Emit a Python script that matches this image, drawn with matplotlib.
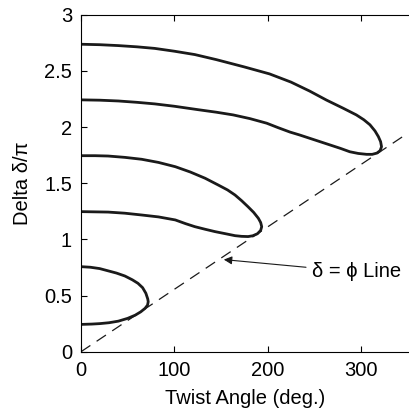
import matplotlib
matplotlib.use('Agg')
import matplotlib.pyplot as plt

plt.rcParams['font.family'] = ['Liberation Sans', 'DejaVu Sans']

# loci for each order, traced from phi=0 along the upper branch, round the tip, back along the lower branch
loop1_phi = [0, 10, 20, 29, 38, 47, 55, 61, 66, 69.5, 71.5, 72, 71.3, 68.6, 64, 58, 50, 40, 30, 20, 11.5, 0]
loop1_del = [0.757, 0.752, 0.74, 0.72, 0.70, 0.674, 0.64, 0.609, 0.57, 0.52, 0.47, 0.445, 0.415, 0.386, 0.355,
             0.325, 0.297, 0.272, 0.258, 0.25, 0.246, 0.243]

loop2_phi = [0, 15, 29, 47, 65, 83, 101, 117, 133, 147, 157, 165, 172, 179, 185, 190, 192.5, 193.6, 192.5, 189,
             184, 179, 172, 165, 155, 143.6, 133, 122, 112, 101, 83, 65, 47, 29, 0]
loop2_del = [1.745, 1.745, 1.742, 1.73, 1.713, 1.685, 1.647, 1.60, 1.544, 1.484, 1.44, 1.395, 1.345, 1.29, 1.24,
             1.188, 1.15, 1.113, 1.08, 1.05, 1.032, 1.025, 1.027, 1.033, 1.05, 1.069, 1.09, 1.113, 1.14, 1.173,
             1.20, 1.217, 1.233, 1.243, 1.247]

loop3_phi = [0, 20, 40, 60, 79, 100, 122, 145, 175, 202, 225, 245, 263, 281, 295, 303, 309.6, 315, 318.6, 321,
             322, 320.5, 317, 312, 306, 297, 288, 278, 267, 256, 245, 234, 224, 211, 199, 181, 163, 145, 125,
             100, 79, 60, 40, 20, 0]
loop3_del = [2.737, 2.733, 2.725, 2.714, 2.70, 2.675, 2.645, 2.60, 2.535, 2.473, 2.40, 2.32, 2.24, 2.167, 2.108,
             2.065, 2.02, 1.965, 1.915, 1.87, 1.825, 1.79, 1.768, 1.757, 1.757, 1.765, 1.78, 1.81, 1.84, 1.87,
             1.90, 1.93, 1.955, 1.995, 2.034, 2.075, 2.108, 2.132, 2.155, 2.185, 2.206, 2.22, 2.232, 2.239, 2.242]

line_phi = [0, 350]
line_del = [0, 350 / 180]

fig = plt.figure(figsize=(4.10, 4.13), dpi=100)
ax = fig.add_axes([0.1976, 0.1484, 0.8024, 0.816])

for phi, dl in [(loop1_phi, loop1_del), (loop2_phi, loop2_del), (loop3_phi, loop3_del)]:
    ax.plot(phi, dl, color='#1a1a1a', lw=2.0, solid_joinstyle='round', solid_capstyle='round')

ax.plot(line_phi, line_del, color='#1a1a1a', lw=0.9, dashes=(9, 6))

ax.annotate('δ = ϕ Line', xy=(153, 0.82), xytext=(247, 0.71),
            fontsize=14.5, va='center', ha='left',
            arrowprops=dict(arrowstyle='-|>', color='#1a1a1a', lw=0.8,
                            mutation_scale=12, shrinkA=2, shrinkB=0))

ax.set_xlim(0, 352.5)
ax.set_ylim(0, 3)
ax.set_xticks([0, 100, 200, 300])
ax.set_yticks([0, 0.5, 1, 1.5, 2, 2.5, 3])
ax.set_yticklabels(['0', '0.5', '1', '1.5', '2', '2.5', '3'])
ax.spines['right'].set_visible(False)
for s in ['left', 'bottom', 'top']:
    ax.spines[s].set_linewidth(0.8)
ax.tick_params(direction='in', length=4.5, width=0.8, labelsize=14.5, top=True, right=False, pad=6.5)
ax.set_xlabel('Twist Angle (deg.)', fontsize=14.5, labelpad=7)
ax.set_ylabel('Delta δ/π', fontsize=14.5, labelpad=9)

plt.savefig('out.png', dpi=100)
plt.close()
